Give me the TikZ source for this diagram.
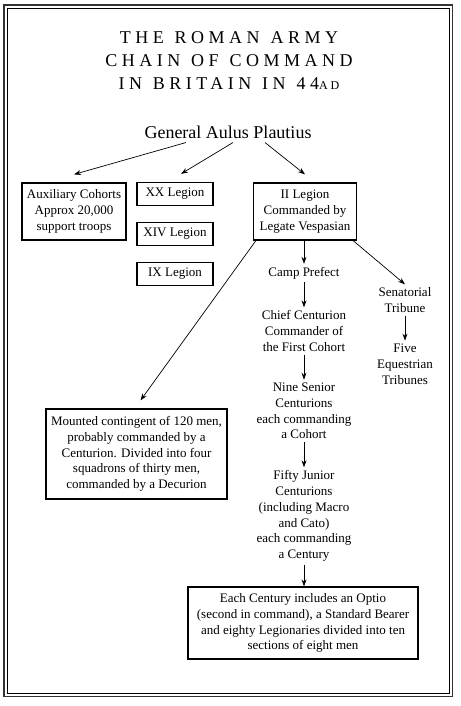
\documentclass[tikz,border=0pt]{standalone}
\usepackage{fontspec}
\setmainfont{Liberation Serif}
\usepackage{tikz}
\usetikzlibrary{arrows.meta}

\newcommand\bodyfont{\fontsize{13}{15.8}\selectfont}
\newcommand\titlefont{\fontsize{18}{23}\selectfont\addfontfeatures{LetterSpace=25}}
\newcommand\wgap{\hspace{0.6em}}

\begin{document}
\begin{tikzpicture}[>={Stealth[length=7pt,width=5pt]}, x=1pt, y=-1pt, % pixel grid
  rank/.style={align=center, inner sep=3pt, font=\bodyfont},
  unitbox/.style={rank, draw, line width=1.2pt, inner sep=0pt},
  arrow/.style={->, line width=0.7pt}]
  \useasboundingbox (0,0) rectangle (460,706);

  % Double frame
  \draw[line width=1.6pt, black!80] (4,5) rectangle (452.5,696.5);
  \draw[line width=0.6pt] (7.5,8) rectangle (449.5,693.5);

  % Title
  \node[align=center, font=\titlefont] (title) at (229,61)
    {THE\wgap ROMAN\wgap ARMY\\
     CHAIN\wgap OF\wgap COMMAND\\
     IN\wgap BRITAIN\wgap IN\wgap 44{\fontsize{12}{12}\selectfont AD}};

  % Top of the chain
  \node[inner sep=0pt, font=\fontsize{18}{20}\selectfont] (general) at (228,132) {General Aulus Plautius};

  % Units under the general
  \node[unitbox, minimum width=104pt, minimum height=57pt] (aux) at (74,211.5)
    {Auxiliary Cohorts\\ Approx 20,000\\ support troops};
  \node[unitbox, minimum width=76pt, minimum height=23pt] (xx) at (175,194) {XX Legion};
  \node[unitbox, minimum width=76pt, minimum height=23pt] (xiv) at (175,234) {XIV Legion};
  \node[unitbox, minimum width=76pt, minimum height=23pt] (ix) at (175,274) {IX Legion};
  \node[unitbox, minimum width=103pt, minimum height=57pt] (ii) at (305,211.5)
    {II Legion\\ Commanded by\\ Legate Vespasian};

  % II Legion chain
  \node[rank] (camp) at (304,273) {Camp Prefect};
  \node[rank] (chief) at (304,331) {Chief Centurion\\ Commander of\\ the First Cohort};
  \node[rank] (nine) at (304,411) {Nine Senior\\ Centurions\\ each commanding\\ a Cohort};
  \node[rank] (fifty) at (304,516) {Fifty Junior\\ Centurions\\ (including Macro\\ and Cato)\\ each commanding\\ a Century};
  \node[unitbox, minimum width=230pt, minimum height=72pt] (century) at (303,623)
    {Each Century includes an Optio\\ (second in command), a Standard Bearer\\ and eighty Legionaries divided into ten\\ sections of eight men};

  % Tribunes
  \node[rank] (senator) at (405,300) {Senatorial\\ Tribune};
  \node[rank] (equites) at (405,364) {Five\\ Equestrian\\ Tribunes};

  % Cavalry
  \node[unitbox, minimum width=181pt, minimum height=90pt] (horse) at (136.5,454)
    {Mounted contingent of 120 men,\\ probably commanded by a\\ Centurion. Divided into four\\ squadrons of thirty men,\\ commanded by a Decurion};

  % Connectors
  \draw[arrow] ([xshift=-42pt,yshift=-4pt]general.south) -- ([yshift=8pt]aux.north);
  \draw[arrow] ([xshift=5pt,yshift=-4pt]general.south) -- ([xshift=6pt,yshift=8pt]xx.north);
  \draw[arrow] ([xshift=37pt,yshift=-4pt]general.south) -- ([yshift=8pt]ii.north);
  \draw[arrow] (ii.south -| camp) -- (camp.north);
  \draw[arrow] (camp) -- (chief);
  \draw[arrow] (chief) -- (nine);
  \draw[arrow] (nine) -- (fifty);
  \draw[arrow] (fifty.south) -- (century.north -| fifty);
  \draw[arrow] ([xshift=-4pt]ii.south east) -- (senator.north);
  \draw[arrow] (senator) -- (equites);
  \draw[arrow] ([xshift=3pt]ii.south west) -- ([xshift=4pt,yshift=8pt]horse.north);
\end{tikzpicture}
\end{document}
